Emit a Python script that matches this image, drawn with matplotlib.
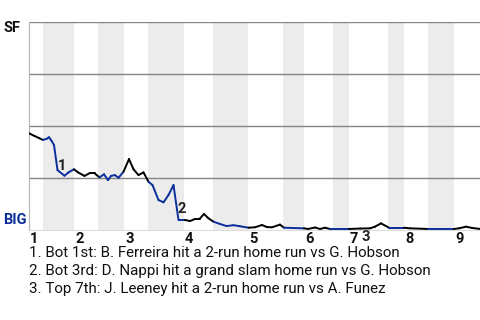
import matplotlib
matplotlib.use("Agg")
import matplotlib.pyplot as plt
from matplotlib.collections import LineCollection

plt.rcParams['font.family'] = ['Roboto', 'DejaVu Sans']

# play index vs SF win probability (%)
plays = [0, 1.1, 2.1, 2.8, 3.5, 4, 4.5, 5, 5.7, 6.1, 7.1, 7.9, 9, 9.8, 11.1, 12.1,
         13.1, 14.1, 15, 15.8, 16.4, 17.2, 17.9, 18.9, 20, 20.9, 21.9, 22.9, 23.9,
         24.7, 25.9, 26.9, 27.9, 28.9, 29.9, 31.2, 32.2, 33.2, 34.1, 35, 35.9, 36.9,
         38.2, 39.5, 40.9, 42.2, 43.9, 45.2, 46.6, 47.6, 48.6, 50.2, 51, 55, 55.8,
         57.2, 58.2, 59.2, 60.2, 64, 66.2, 68.2, 69.2, 70.4, 72, 75, 76.2, 79.8, 85,
         86, 87.4, 88.6, 90.2]
sf_wp = [46.5, 45.2, 44.1, 43.3, 43.8, 44.6, 42.9, 40.9, 28.8, 28.0, 26.1, 27.7,
         29.2, 27.7, 26.0, 27.3, 27.3, 25.3, 26.8, 24.0, 26.0, 26.4, 25.1, 28.0,
         34.1, 29.2, 26.4, 27.7, 23.2, 21.6, 14.4, 13.3, 16.8, 21.6, 4.8, 4.8, 4.3,
         5.3, 5.3, 7.7, 5.6, 4.0, 2.9, 1.9, 2.3, 1.8, 1.1, 1.3, 2.4, 1.4, 1.3, 2.6,
         1.1, 0.8, 0.5, 1.2, 0.5, 1.1, 0.5, 0.5, 0.7, 0.8, 1.6, 3.2, 1.1, 1.1, 0.8,
         0.5, 0.5, 0.8, 1.6, 1.0, 0.5]

inning_starts = [0, 9, 19, 31, 43.8, 55, 64, 75, 85]
inning_labels = ['1', '2', '3', '4', '5', '6', '7', '8', '9']
bottom_starts = [2.8, 13.8, 23.8, 36.8, 50.8, 60.8, 71.8, 79.8]
bottom_ends = [9, 19, 31, 43.8, 55, 64, 75, 85]

ann_labels = ['1', '2', '3']
ann_x = [5.7, 29.8, 66.6]
ann_y = [30.8, 10.1, -3.2]
notes = [
    '1. Bot 1st: B. Ferreira hit a 2-run home run vs G. Hobson',
    '2. Bot 3rd: D. Nappi hit a grand slam home run vs G. Hobson',
    '3. Top 7th: J. Leeney hit a 2-run home run vs A. Funez',
]

BLUE = '#0a2f9a'

fig = plt.figure(figsize=(4.8, 3.2), dpi=100)
ax = fig.add_axes([29 / 480, 90 / 320, 451 / 480, 208 / 320])
ax.set_xlim(0, 90.2)
ax.set_ylim(0, 100)

for s, e in zip(bottom_starts, bottom_ends):
    ax.axvspan(s, e, color='#ececec', lw=0, zorder=0)

for yv in [25, 50, 75, 100]:
    ax.axhline(yv, color='#858585', lw=1.0, zorder=1)


def in_bottom(x):
    return any(s <= x < e for s, e in zip(bottom_starts, bottom_ends))


segs, cols = [], []
for i in range(len(plays) - 1):
    segs.append([(plays[i], sf_wp[i]), (plays[i + 1], sf_wp[i + 1])])
    mid = (plays[i] + plays[i + 1]) / 2
    cols.append(BLUE if in_bottom(mid) else 'black')
ax.add_collection(LineCollection(segs, colors=cols, linewidths=1.4, zorder=3,
                                 capstyle='round', joinstyle='round'))

for lab, x, y in zip(ann_labels, ann_x, ann_y):
    ax.text(x, y, lab, ha='left', va='center', fontsize=10.5, fontweight='bold',
            color='#222222', zorder=4, clip_on=False)

ax.set_xticks([])
ax.set_yticks([])
for sp in ['top', 'right']:
    ax.spines[sp].set_visible(False)
ax.spines['left'].set_color('#b5b5b5')
ax.spines['bottom'].set_color('#dddddd')

for s, lab in zip(inning_starts, inning_labels):
    ax.text(s + 0.2, -1.2, lab, ha='left', va='top', fontsize=10.5,
            fontweight='bold', color='#111111', clip_on=False)

fig.text(3 / 480, 1 - 28 / 320, 'SF', ha='left', va='center', fontsize=10.5,
         fontweight='bold', color='#111111')
fig.text(3 / 480, 1 - 220 / 320, 'BIG', ha='left', va='center', fontsize=10.5,
         fontweight='bold', color=BLUE)

for i, note in enumerate(notes):
    fig.text(29 / 480, 1 - (253 + 18 * i) / 320, note, ha='left', va='center',
             fontsize=10.9, color='#111111')

fig.savefig('out.png', dpi=100)
